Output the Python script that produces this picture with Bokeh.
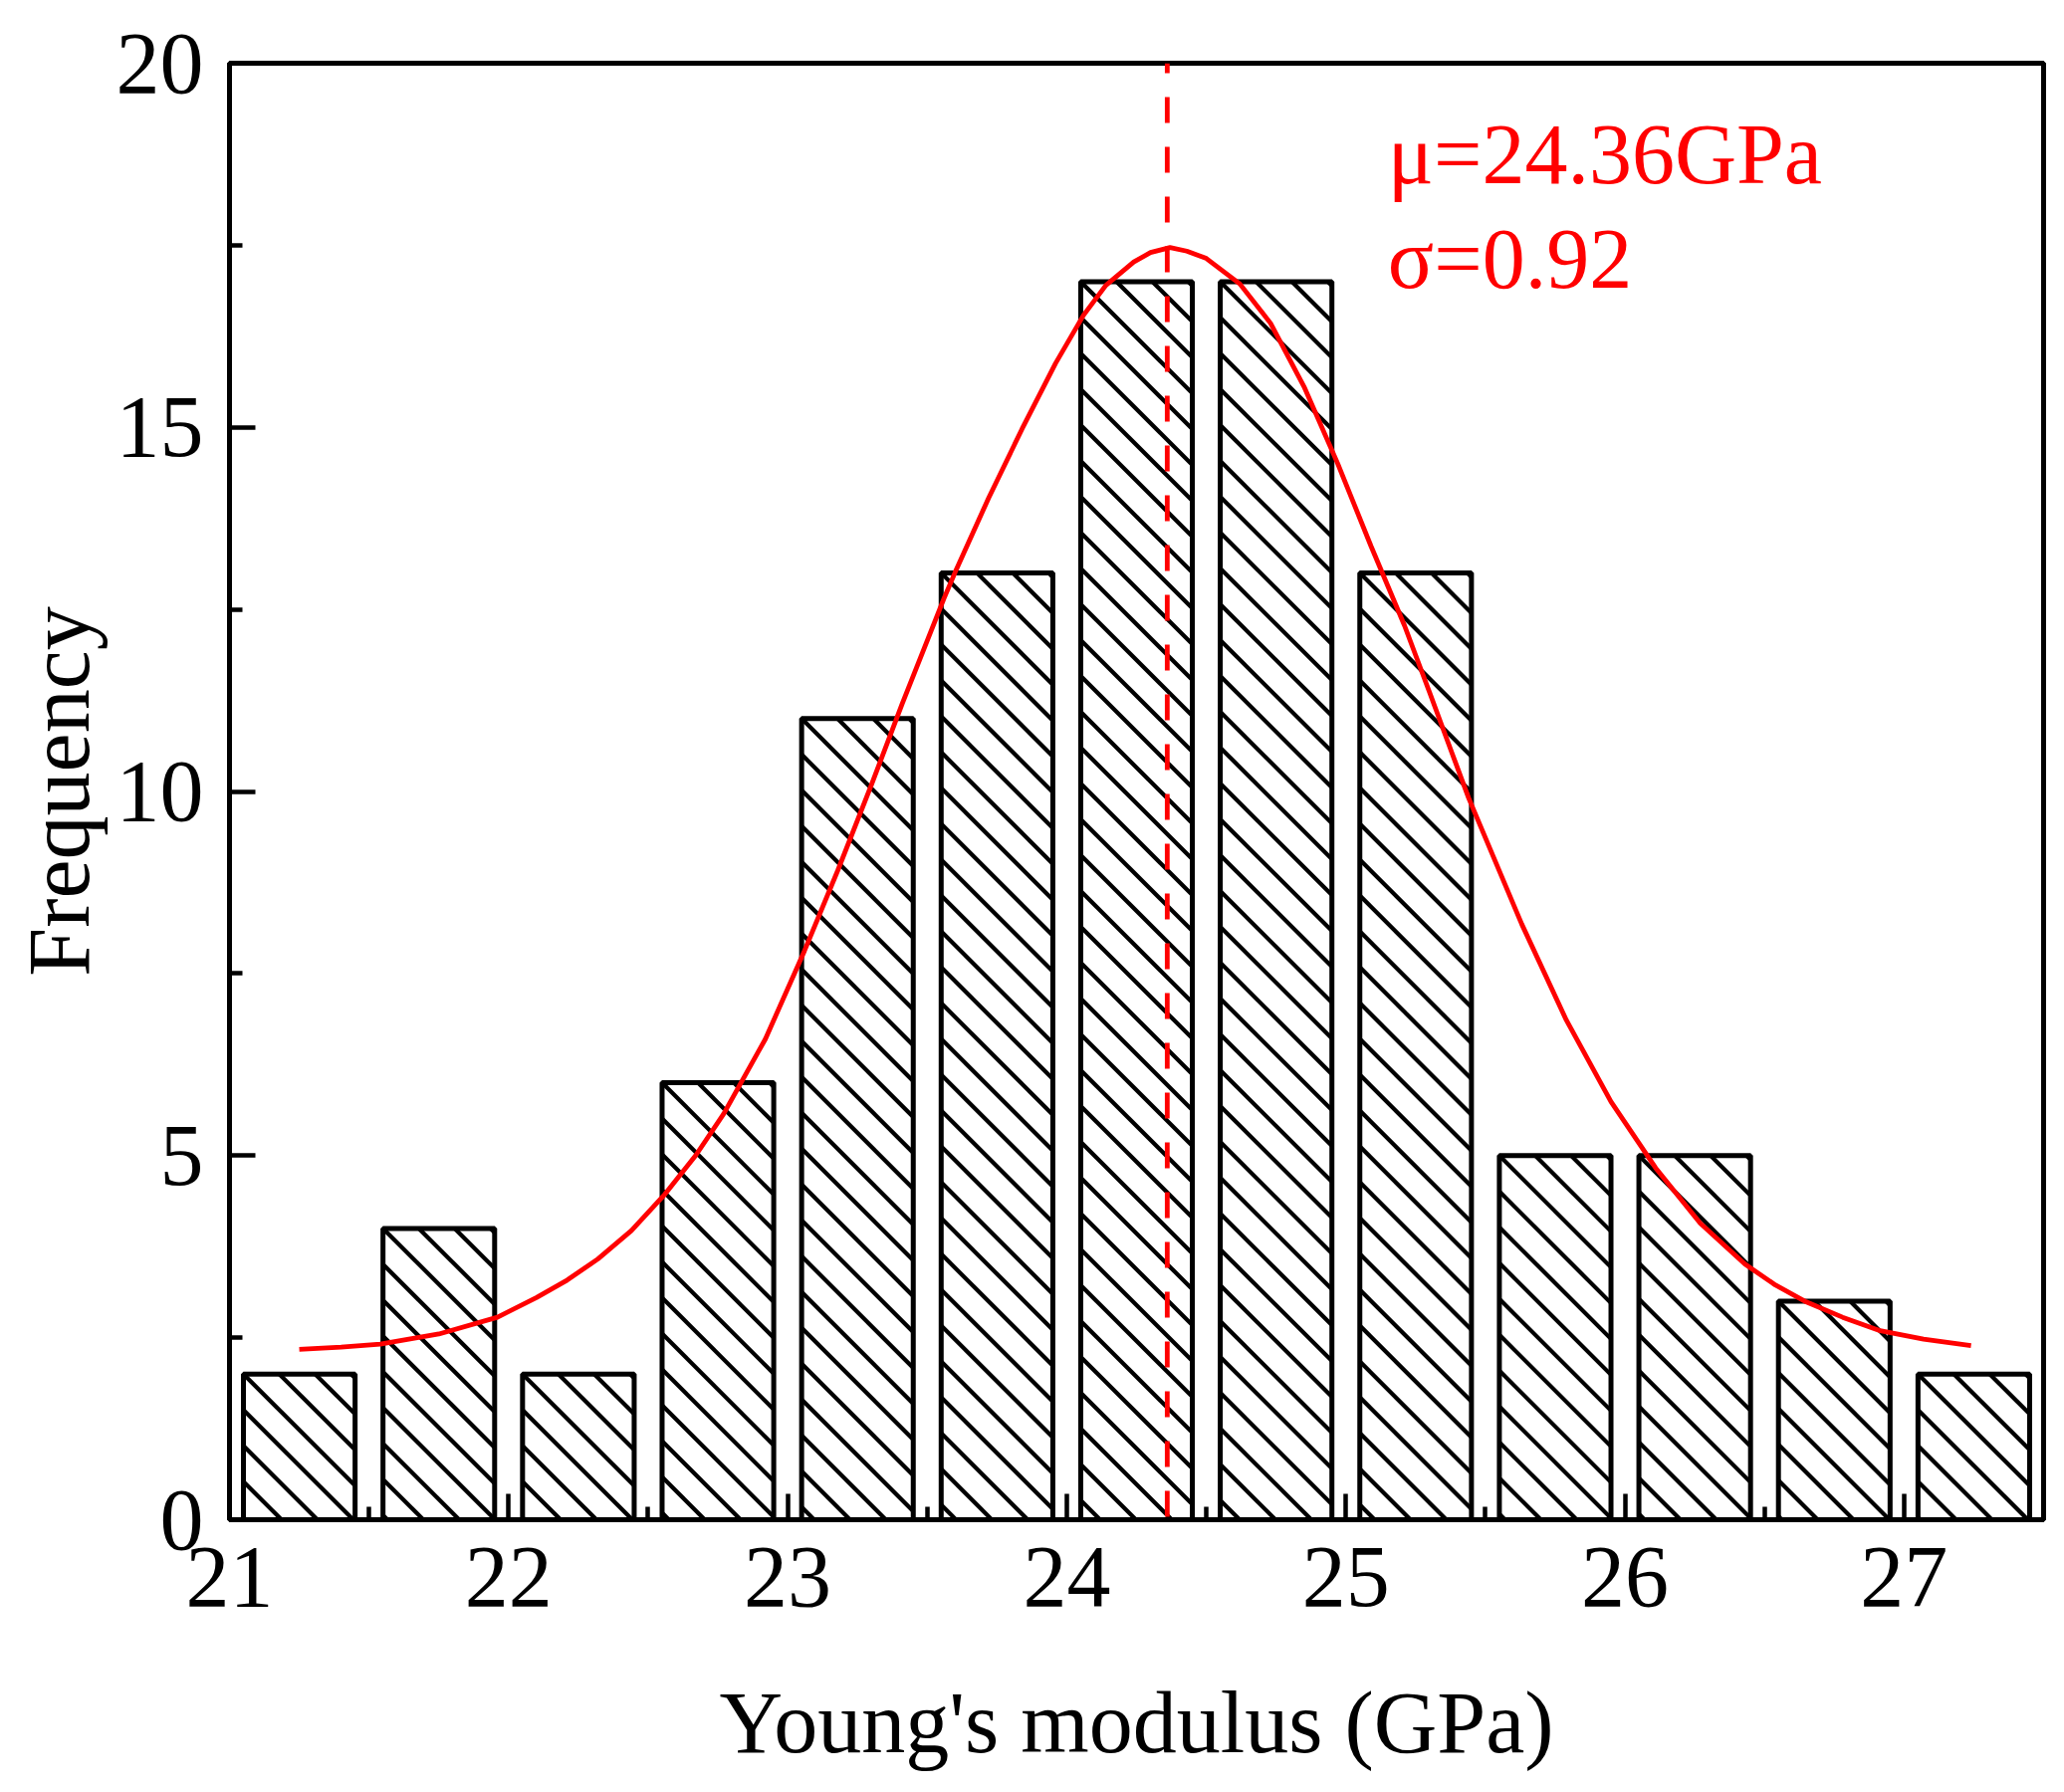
import math

from bokeh.plotting import figure
from bokeh.models import Range1d, FixedTicker, Label
from bokeh.embed import file_html
from bokeh.resources import INLINE

# histogram of Young's modulus (bins of 0.5 GPa)
bin_centers = [21.25, 21.75, 22.25, 22.75, 23.25, 23.75, 24.25,
               24.75, 25.25, 25.75, 26.25, 26.75, 27.25]
counts = [2, 4, 2, 6, 11, 13, 17, 17, 13, 5, 5, 3, 2]
bar_width = 0.4

# fitted curve
curve_x = [21.25, 21.40, 21.54, 21.75, 21.96, 22.10, 22.21, 22.32, 22.44,
           22.56, 22.67, 22.77, 22.92, 23.06, 23.18, 23.30, 23.41,
           23.56, 23.60, 23.72, 23.84, 23.96, 24.06, 24.14, 24.24, 24.30,
           24.37, 24.43, 24.50, 24.62, 24.73, 24.85, 24.97, 25.09, 25.21,
           25.30, 25.38, 25.44, 25.63, 25.79, 25.95, 26.11, 26.27, 26.43,
           26.54, 26.65, 26.78, 26.91, 27.07, 27.24]
curve_y = [2.34, 2.37, 2.41, 2.55, 2.78, 3.05, 3.29, 3.58, 3.97,
           4.47, 5.00, 5.57, 6.60, 7.81, 8.92, 10.09, 11.20,
           12.65, 13.01, 14.03, 14.98, 15.88, 16.54, 16.95, 17.27, 17.40,
           17.47, 17.42, 17.32, 16.97, 16.43, 15.56, 14.51, 13.37, 12.28,
           11.36, 10.53, 9.91, 8.18, 6.86, 5.74, 4.83, 4.07, 3.51,
           3.22, 2.99, 2.78, 2.60, 2.48, 2.39]

mu = 24.36
sigma = 0.92

x_ticks = [21, 22, 23, 24, 25, 26, 27]
x_minor = [21.5, 22.5, 23.5, 24.5, 25.5, 26.5, 27.5]
y_ticks = [0, 5, 10, 15, 20]
y_minor = [2.5, 7.5, 12.5, 17.5]

FONT = "Liberation Serif"
W, H = 2057, 1784
B_LEFT, B_RIGHT, B_TOP, B_BOTTOM = 230, 5, 63, 258
X0, X1, Y0, Y1 = 21, 27.5, 0, 20

p = figure(width=W, height=H,
           x_range=Range1d(X0, X1), y_range=Range1d(Y0, Y1),
           output_backend="svg", toolbar_location=None,
           min_border_left=B_LEFT, min_border_right=B_RIGHT,
           min_border_top=B_TOP, min_border_bottom=B_BOTTOM)
p.grid.visible = False
p.background_fill_color = "white"
p.border_fill_color = "white"
p.outline_line_color = "black"
p.outline_line_width = 5
p.outline_line_alpha = 1.0

# 45 degree "\" hatching, 36 px apart, starting at each bar's top-left corner
sx = (W - B_LEFT - B_RIGHT) / (X1 - X0)
sy = (H - B_TOP - B_BOTTOM) / (Y1 - Y0)
HATCH = 36
hx0, hy0, hx1, hy1 = [], [], [], []
for xc, top in zip(bin_centers, counts):
    left, right = xc - bar_width / 2, xc + bar_width / 2
    c0 = sx * left + sy * top
    kmin = math.ceil((sx * left - c0) / HATCH)
    kmax = math.floor((sx * right + sy * top - c0) / HATCH)
    for k in range(kmin, kmax + 1):
        c = c0 + k * HATCH
        xa = max(left, (c - sy * top) / sx)
        xb = min(right, c / sx)
        if xb - xa < 1e-6:
            continue
        hx0.append(xa); hy0.append((c - sx * xa) / sy)
        hx1.append(xb); hy1.append((c - sx * xb) / sy)

p.vbar(x=bin_centers, top=counts, width=bar_width, bottom=0,
       fill_color="white", line_alpha=0)
p.segment(hx0, hy0, hx1, hy1, line_color="black", line_width=4.2)
p.vbar(x=bin_centers, top=counts, width=bar_width, bottom=0,
       fill_alpha=0, line_color="black", line_width=5)

p.line(curve_x, curve_y, line_color="#ff0000", line_width=4.8)

p.line([mu, mu], [20, 0], line_color="#ff0000", line_width=4.8,
       line_dash="26 24", line_dash_offset=16)

p.add_layout(Label(x=25.15, y=18.75, text=f"μ={mu}GPa",
                   text_font=FONT, text_font_size="86px",
                   text_color="#ff0000", text_baseline="alphabetic"))
p.add_layout(Label(x=25.15, y=17.31, text=f"σ={sigma}",
                   text_font=FONT, text_font_size="86px",
                   text_color="#ff0000", text_baseline="alphabetic"))

for ax in (p.xaxis[0], p.yaxis[0]):
    ax.axis_line_width = 5
    ax.axis_line_color = "black"
    ax.major_tick_line_width = 4.5
    ax.minor_tick_line_width = 4.5
    ax.major_tick_in = 26
    ax.major_tick_out = 0
    ax.minor_tick_in = 13
    ax.minor_tick_out = 0
    ax.major_label_text_font = FONT
    ax.major_label_text_font_size = "88px"
    ax.major_label_text_color = "black"
    ax.axis_label_text_font = FONT
    ax.axis_label_text_font_size = "88px"
    ax.axis_label_text_font_style = "normal"
    ax.axis_label_text_color = "black"

p.xaxis.ticker = FixedTicker(ticks=x_ticks, minor_ticks=x_minor)
p.yaxis.ticker = FixedTicker(ticks=y_ticks, minor_ticks=y_minor)
p.xaxis.axis_label = "Young's modulus (GPa)"
p.yaxis.axis_label = "Frequency"
p.xaxis.major_label_standoff = 28
p.yaxis.major_label_standoff = 26
p.xaxis.axis_label_standoff = 66
p.yaxis.axis_label_standoff = 6

open("out.html", "w").write(file_html(p, INLINE))
